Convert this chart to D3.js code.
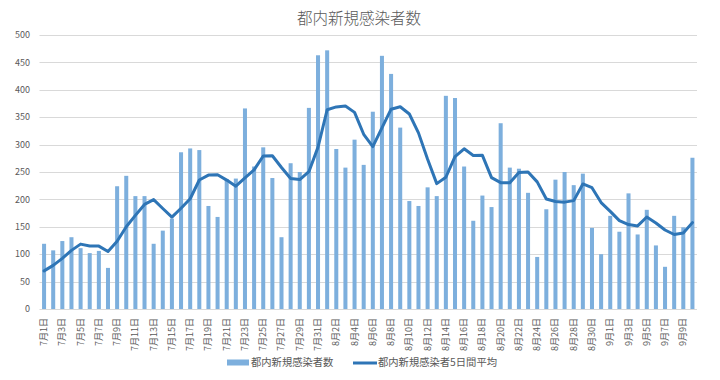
<!DOCTYPE html>
<html><head><meta charset="utf-8">
<script src="https://cdn.jsdelivr.net/npm/d3@7"></script>
<style>
body{margin:0;background:#fff;}
svg{display:block;font-family:"Noto Sans CJK JP","Noto Sans",sans-serif;}
</style></head>
<body><svg id="c" width="720" height="380"></svg>
<script>
// Category labels (dates)
const julyDays = d3.range(1, 32);
const augDays = d3.range(1, 32);
const sepDays = d3.range(1, 11);
const categories = [
  ...julyDays.map(d => `7月${d}日`),
  ...augDays.map(d => `8月${d}日`),
  ...sepDays.map(d => `9月${d}日`)
];
// Daily new cases (bars)
const dailyCases = [
  119,107,124,131,111,102,106,75,224,243,206,206,119,143,165,286,293,290,188,168,237,238,366,260,295,239,131,266,250,367,463,
  472,292,258,309,263,360,462,429,331,197,188,222,206,389,385,260,161,207,186,339,258,256,212,95,182,236,250,226,247,148,100,
  170,141,211,136,181,116,77,170,149,276
];
// 5-day average (line)
const avg5 = [
  69.6,79.6,92.4,107.0,118.4,115.0,114.8,105.0,123.6,150.0,170.8,190.8,199.6,183.4,167.8,183.8,201.2,235.4,244.4,245.0,235.2,224.2,239.4,253.8,279.2,279.6,258.2,238.2,236.2,250.6,295.4,
  363.6,368.8,370.4,358.8,318.8,296.4,330.4,364.6,369.0,355.8,321.4,273.4,228.8,240.4,278.0,292.4,280.2,280.4,239.8,230.6,230.2,249.2,250.2,232.0,200.6,196.2,195.0,197.8,228.2,221.4,194.2,
  178.2,161.2,154.0,151.6,167.8,157.0,144.2,136.0,138.6,157.6
];
const yTicks = [0,50,100,150,200,250,300,350,400,450,500];
const title = "都内新規感染者数";
const seriesNames = ["都内新規感染者数", "都内新規感染者5日間平均"];

const svg = d3.select("#c");
const m = {l:39.5, r:23, t:35, b:71};
const W = 720, H = 380;
const x = d3.scaleBand().domain(categories).range([m.l, W - m.r]).paddingInner(0.56).paddingOuter(0.28);
const y = d3.scaleLinear().domain([0, 500]).range([H - m.b, m.t]);

const txt = "#595959";

// gridlines
svg.append("g").selectAll("line").data(yTicks).join("line")
  .attr("x1", m.l).attr("x2", W - m.r)
  .attr("y1", d => Math.round(y(d)) + 0.5).attr("y2", d => Math.round(y(d)) + 0.5)
  .attr("stroke", "#d9d9d9").attr("stroke-width", 1);

// y labels
svg.append("g").selectAll("text").data(yTicks).join("text")
  .attr("x", 30).attr("y", d => y(d)).attr("dy", "0.35em")
  .attr("text-anchor", "end").attr("font-size", 9).attr("fill", txt)
  .text(d => d);

// bars
svg.append("g").selectAll("rect").data(dailyCases).join("rect")
  .attr("x", (d, i) => x(categories[i]))
  .attr("width", x.bandwidth())
  .attr("y", d => y(d)).attr("height", d => y(0) - y(d))
  .attr("fill", "#7dafdd");

// line
const line = d3.line().x((d, i) => x(categories[i]) + x.bandwidth() / 2).y(d => y(d));
svg.append("path").datum(avg5).attr("d", line)
  .attr("fill", "none").attr("stroke", "#2e75b6").attr("stroke-width", 3)
  .attr("stroke-linejoin", "round").attr("stroke-linecap", "round");

// x labels (every other)
svg.append("g").selectAll("text").data(categories.filter((c, i) => i % 2 === 0)).join("text")
  .attr("transform", d => `translate(${x(d) + x.bandwidth() / 2 + 3},${y(0) + 9}) rotate(-90)`)
  .attr("text-anchor", "end").attr("font-size", 9).attr("fill", txt)
  .text(d => d);

// title
svg.append("text").attr("x", 359).attr("y", 24).attr("text-anchor", "middle")
  .attr("font-size", 15.5).attr("font-weight", 300).attr("fill", txt).text(title);

// legend
const lg = svg.append("g");
lg.append("rect").attr("x", 227).attr("y", 359.5).attr("width", 22).attr("height", 6).attr("fill", "#7dafdd");
lg.append("text").attr("x", 251).attr("y", 366).attr("font-size", 10.3).attr("fill", txt).text(seriesNames[0]);
lg.append("line").attr("x1", 353).attr("x2", 377).attr("y1", 363).attr("y2", 363)
  .attr("stroke", "#2e75b6").attr("stroke-width", 3);
lg.append("text").attr("x", 378).attr("y", 366).attr("font-size", 10.3).attr("fill", txt).text(seriesNames[1]);
</script>
</body></html>
